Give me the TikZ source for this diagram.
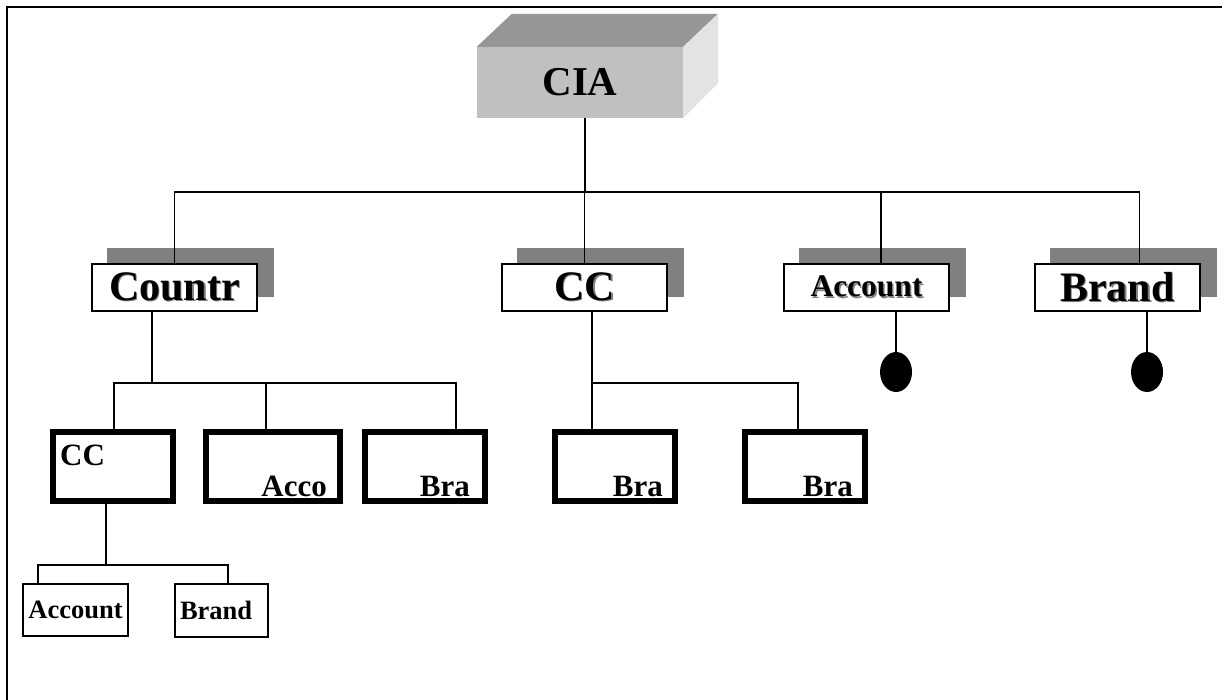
\documentclass[tikz,border=0pt]{standalone}
\usepackage{fontspec}
\setmainfont{Liberation Serif}
\usetikzlibrary{shapes.geometric,backgrounds,calc}
\definecolor{frontgray}{HTML}{C0C0C0}
\definecolor{topgray}{HTML}{969696}
\definecolor{sidegray}{HTML}{E3E3E3}
\definecolor{shadegray}{HTML}{808080}
% bold label with a soft grey drop shadow
\newcommand\shtxt[1]{\rlap{\kern1.5pt\raisebox{-1.5pt}{\color{shadegray}#1}}#1}

\begin{document}
\begin{tikzpicture}[x=1pt,y=-1pt,
  conn/.style={line width=1.4pt},
  frame/.style={line width=2.5pt},
  headbox/.style={fill=frontgray, minimum width=206pt, minimum height=71pt, inner sep=0pt,
    font=\fontsize{41}{41}\selectfont\bfseries},
  topbox/.style={draw, line width=2pt, fill=white, minimum width=165pt, minimum height=47pt,
    inner sep=0pt, font=\fontsize{42}{42}\selectfont\bfseries},
  topboxsmall/.style={topbox, font=\fontsize{31.5}{31.5}\selectfont\bfseries},
  boxshadow/.style={fill=shadegray},
  midbox/.style={draw, line width=6pt, fill=white, minimum width=120pt, minimum height=69pt, inner sep=0pt},
  midtxt/.style={inner sep=0pt, font=\fontsize{31}{31}\selectfont\bfseries},
  lowbox/.style={draw, line width=2pt, fill=white, minimum height=52pt, inner sep=0pt,
    font=\fontsize{26.5}{26.5}\selectfont\bfseries},
  blob/.style={ellipse, fill=black, minimum width=32pt, minimum height=40pt, inner sep=0pt}
]
\useasboundingbox (0,0) rectangle (1222,700);

% frame along the top and left
\draw[frame] (7,700) -- (7,7) -- (1222,7);

% CIA block drawn as a bevelled box
\node[headbox] (cia) at (580,82.5) {CIA};
\fill[topgray] (cia.north west) -- ++(35,-33) -- ++(206,0) -- (cia.north east) -- cycle;
\fill[sidegray] (cia.north east) -- ++(35,-33) -- ++(0,69) -- (cia.south east) -- cycle;

% first level
\node[topbox] (countr) at (174.5,287.5) {\shtxt{Countr}};
\node[topbox] (ccA) at (584.5,287.5) {\shtxt{CC}};
\node[topboxsmall] (accA) at (866.5,287.5) {\shtxt{Account}};
\node[topbox] (brandA) at (1117.5,287.5) {\shtxt{Brand}};

\begin{scope}[on background layer]
  \foreach \n in {countr,ccA,accA,brandA}
    \fill[boxshadow] ([shift={(16,-15)}]\n.north west) rectangle ([shift={(16,-15)}]\n.south east);
\end{scope}

% terminal markers
\node[blob] (d1) at (896,372) {};
\node[blob] (d2) at (1147,372) {};

% second level
\node[midbox] (cc3) at (113,466.5) {};
\node[midbox, minimum width=134pt] (acco) at (273,466.5) {};
\node[midbox] (bra3) at (425,466.5) {};
\node[midbox] (braB) at (615,466.5) {};
\node[midbox] (braC) at (805,466.5) {};

\node[midtxt, anchor=base west] (t1) at ($(cc3.north west)+(10,36)$) {CC};
\node[midtxt, anchor=base east] (t2) at ($(acco.south east)+(-16,-8)$) {Acco};
\node[midtxt, anchor=base east] (t3) at ($(bra3.south east)+(-18,-8)$) {Bra};
\node[midtxt, anchor=base east] (t4) at ($(braB.south east)+(-15,-8)$) {Bra};
\node[midtxt, anchor=base east] (t5) at ($(braC.south east)+(-15,-8)$) {Bra};

% third level
\node[lowbox, minimum width=105pt] (acc4) at (75.5,610) {Account};
\node[lowbox, minimum height=53pt, text width=83pt, inner xsep=5pt, align=left] (brd4) at (221.5,610.5) {Brand};

% connectors
\coordinate (j1) at (585,192);
\draw[conn] (j1 |- cia.south) -- (j1);
\draw[conn] (countr.north) |- (j1) -| ([xshift=22]brandA.north);
\draw[conn] (ccA.north) -- (ccA.north |- j1);
\draw[conn] ([xshift=14.5]accA.north) -- ([xshift=14.5]accA.north |- j1);

\draw[conn] ([xshift=29.5]accA.south) -- (d1.north);
\draw[conn] ([xshift=29.5]brandA.south) -- (d2.north);

\coordinate (j2) at (152,383);
\draw[conn] ([xshift=-22.5]countr.south) -- (j2);
\draw[conn] ([xshift=1]cc3.north) |- (j2) -| ([xshift=31]bra3.north);
\draw[conn] ([xshift=-7]acco.north) -- ([xshift=-7]acco.north |- j2);

\coordinate (j3) at (592,383);
\draw[conn] ([xshift=7.5]ccA.south) -- ([xshift=-23]braB.north);
\draw[conn] (j3) -| ([xshift=-7]braC.north);

\coordinate (j4) at (106,565);
\draw[conn] ([xshift=-7]cc3.south) -- (j4);
\draw[conn] ([xshift=-37.5]acc4.north) |- (j4) -| ([xshift=6.5]brd4.north);
\end{tikzpicture}
\end{document}
